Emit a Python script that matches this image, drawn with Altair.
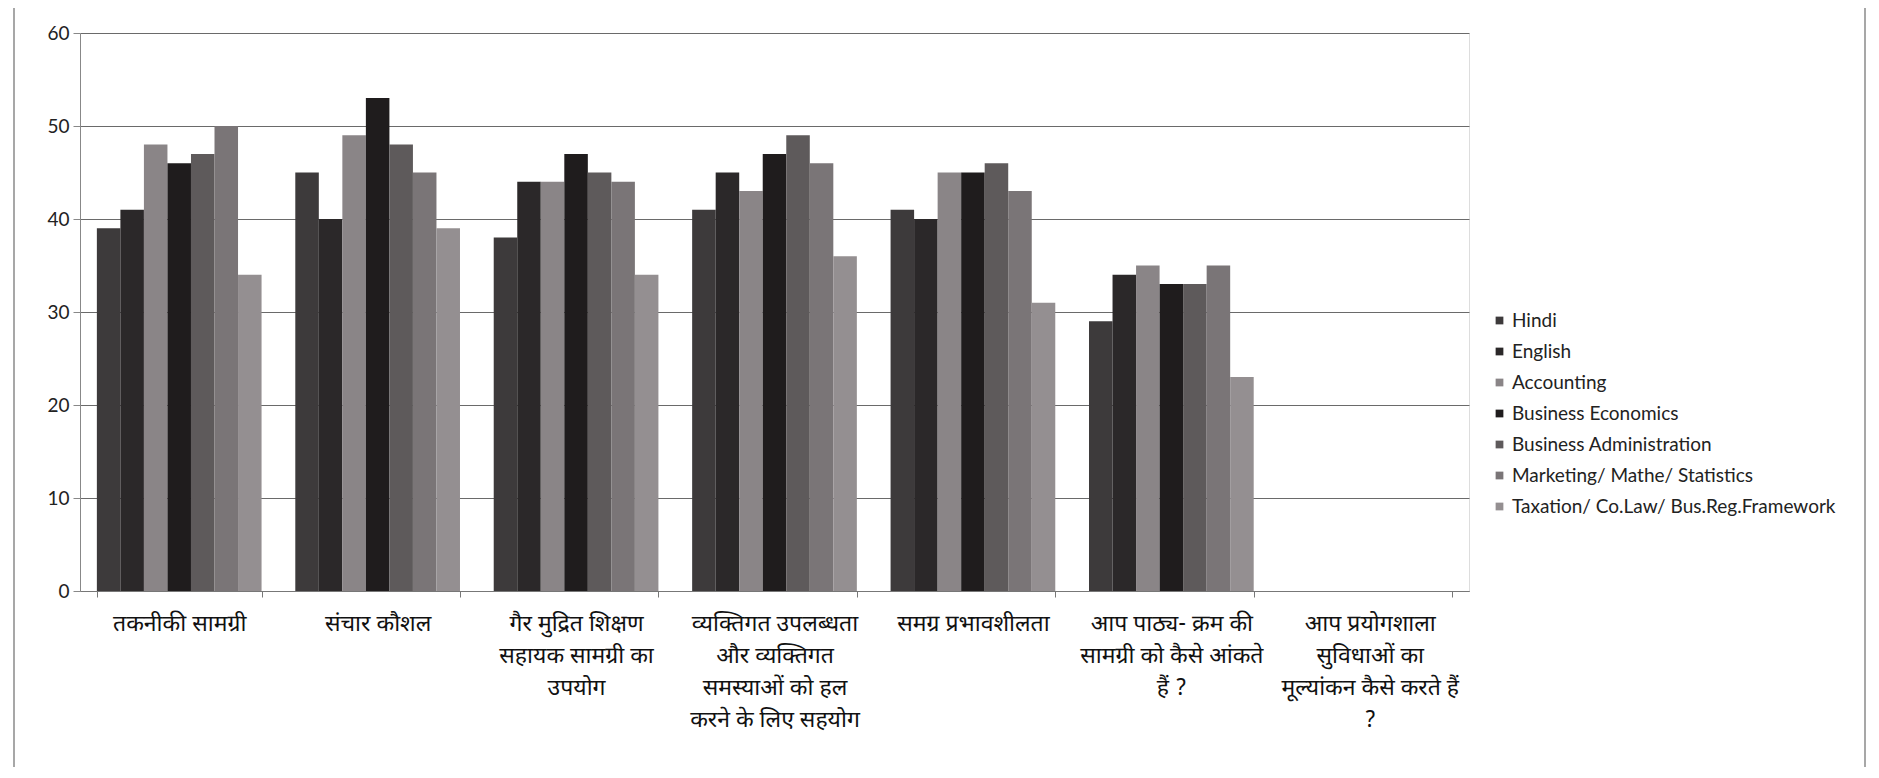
import altair as alt
import pandas as pd

# ---- data ----
category_lines = [
    ["तकनीकी सामग्री"],
    ["संचार कौशल"],
    ["गैर मुद्रित शिक्षण", "सहायक सामग्री का", "उपयोग"],
    ["व्यक्तिगत उपलब्धता", "और व्यक्तिगत", "समस्याओं को हल", "करने के लिए सहयोग"],
    ["समग्र प्रभावशीलता"],
    ["आप पाठ्य- क्रम की", "सामग्री को कैसे आंकते", "हैं ?"],
    ["आप प्रयोगशाला", "सुविधाओं का", "मूल्यांकन कैसे करते हैं", "?"],
]
categories = ["\n".join(l) for l in category_lines]

series = [
    "Hindi",
    "English",
    "Accounting",
    "Business Economics",
    "Business Administration",
    "Marketing/ Mathe/ Statistics",
    "Taxation/ Co.Law/ Bus.Reg.Framework",
]

hindi = [39, 45, 38, 41, 41, 29, None]
english = [41, 40, 44, 45, 40, 34, None]
accounting = [48, 49, 44, 43, 45, 35, None]
bus_econ = [46, 53, 47, 47, 45, 33, None]
bus_admin = [47, 48, 45, 49, 46, 33, None]
marketing = [50, 45, 44, 46, 43, 35, None]
taxation = [34, 39, 34, 36, 31, 23, None]

y_ticks = [0, 10, 20, 30, 40, 50, 60]

colors = ["#3d3a3b", "#2b2829", "#8a8587", "#1f1c1d", "#5e5a5b", "#7a7577", "#948f91"]

values_by_series = [hindi, english, accounting, bus_econ, bus_admin, marketing, taxation]
rows = []
for s, vals in zip(series, values_by_series):
    for c, v in zip(categories, vals):
        if v is not None:
            rows.append({"category": c, "series": s, "value": v})
df = pd.DataFrame(rows)

DEV_FONT = "Noto Sans Devanagari, Lohit Devanagari, Mangal, Noto Sans, sans-serif"
LAT_FONT = "Lato, Open Sans, sans-serif"

bars = alt.Chart(df).mark_bar().encode(
    x=alt.X(
        "category:N",
        sort=categories,
        scale=alt.Scale(domain=categories, paddingInner=0.17, paddingOuter=0.085),
        axis=alt.Axis(
            title=None,
            labelAngle=0,
            labelExpr="split(datum.label, '\\n')",
            labelFont=DEV_FONT,
            labelFontSize=23,
            labelLineHeight=32,
            labelPadding=15,
            labelColor="#111111",
            labelLimit=340,
            tickBand="extent",
            tickSize=6,
            tickColor="#777777",
            domainColor="#777777",
            grid=False,
        ),
    ),
    xOffset=alt.XOffset("series:N", sort=series,
                        scale=alt.Scale(domain=series, paddingInner=0, paddingOuter=0)),
    y=alt.Y(
        "value:Q",
        scale=alt.Scale(domain=[0, 60], nice=False),
        axis=alt.Axis(
            title=None,
            values=y_ticks,
            grid=True,
            gridColor="#6a6a6a",
            gridWidth=1,
            domainColor="#888888",
            tickColor="#888888",
            tickSize=7,
            labelPadding=4,
            labelFont=LAT_FONT,
            labelFontSize=19,
            labelColor="#222222",
        ),
    ),
    color=alt.Color(
        "series:N",
        sort=series,
        scale=alt.Scale(domain=series, range=colors),
        legend=alt.Legend(
            title=None,
            orient="none",
            legendX=1410,
            legendY=278,
            symbolType="square",
            symbolSize=60,
            symbolStrokeWidth=0,
            labelFont=LAT_FONT,
            labelFontSize=19,
            labelColor="#222222",
            labelOffset=3,
            rowPadding=11,
            labelLimit=450,
            padding=0,
        ),
    ),
)

frame_df = pd.DataFrame({"frame": [1]})
frame = alt.Chart(frame_df).mark_rect(filled=False, stroke="#8a8a8a", strokeWidth=1.5).encode(
    x=alt.value(-66), x2=alt.value(1785), y=alt.value(-27), y2=alt.value(737)
)

chart = alt.layer(frame, bars).properties(
    width=1389,
    height=558,
    autosize=alt.AutoSizeParams(type="none"),
    padding={"left": 72, "top": 25, "right": 398, "bottom": 176},
).configure_view(stroke=None).configure(background="white")

chart.save("out.html", embed_options={"renderer": "svg", "actions": False})
